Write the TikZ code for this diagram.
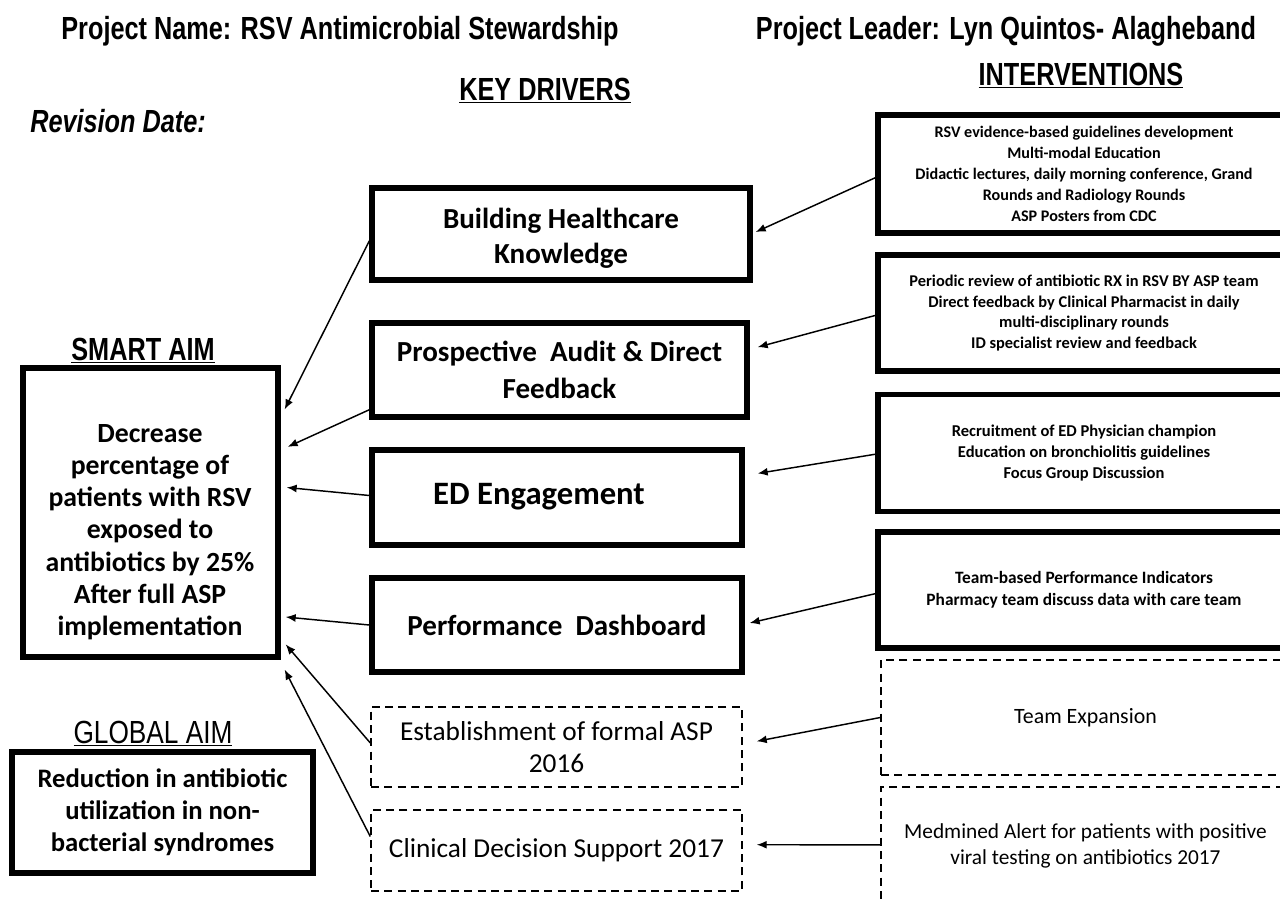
\documentclass[tikz,border=0pt]{standalone}
\usepackage{fontspec}
\setmainfont{Carlito}
\newfontfamily\hd[FakeStretch=0.79]{Liberation Sans}
\newfontfamily\hdr[FakeStretch=0.82]{Liberation Sans}
\usetikzlibrary{arrows.meta,calc}
\begin{document}
\begin{tikzpicture}[x=0.75pt,y=-0.75pt,
  thickbox/.style={draw,line width=4pt,inner sep=0pt,align=center},
  dashbox/.style={draw,line width=1.1pt,dash pattern=on 6pt off 4pt,inner sep=0pt,align=center},
  conn/.style={line width=1.1pt,-{Latex[length=7.5pt,width=6pt]}},
  head/.style={font=\hd\bfseries\fontsize{24pt}{27pt}\selectfont,anchor=base,inner sep=0pt},
  drv/.style={font=\bfseries\fontsize{21.8pt}{26pt}\selectfont},
  drvl/.style={font=\fontsize{20.5pt}{24.5pt}\selectfont},
  itv/.style={font=\bfseries\fontsize{12.1pt}{15.7pt}\selectfont},
  aimtxt/.style={font=\bfseries\fontsize{20.8pt}{24.2pt}\selectfont,align=center,inner sep=0pt}
]
\useasboundingbox (0,0) rectangle (1280,899);
\fill[white] (0,0) rectangle (1280,899);
\clip (0,0) rectangle (1280,899);

% headings
\node[head] (pname) at (340,40) {Project Name: RSV Antimicrobial Stewardship};
\node[head] (plead) at (1006,40) {Project Leader: Lyn Quintos- Alagheband};
\node[head] (kd) at (545,100) {\underline{KEY DRIVERS}};
\node[head] (iv) at (1081,85) {\underline{INTERVENTIONS}};
\node[head,anchor=base west,font=\hd\bfseries\itshape\fontsize{24pt}{27pt}\selectfont] (rev) at (30,132) {Revision Date:};
\node[head] (sa) at (143,360) {\underline{SMART AIM}};
\node[head,font=\hdr\fontsize{24pt}{27pt}\selectfont] (ga) at (153,743) {\underline{GLOBAL AIM}};

% smart aim and global aim
\node[thickbox,minimum width=191.25pt,minimum height=216.75pt] (s) at (150.5,512.5) {};
\node[aimtxt] (stxt) at (150,532) {Decrease\\percentage of\\patients with RSV\\exposed to\\antibiotics by 25\%\\After full ASP\\implementation};
\node[thickbox,minimum width=225.75pt,minimum height=90.75pt,font=\bfseries\fontsize{20pt}{24pt}\selectfont] (g) at (162.5,812.5) {Reduction in antibiotic\\utilization in non-\\bacterial syndromes};

% key drivers
\node[thickbox,minimum width=283.5pt,minimum height=69pt] (d1) at (561,234) {};
\node[drv,align=center] (d1t) at (561,238) {Building Healthcare\\Knowledge};
\node[thickbox,drv,font=\bfseries\fontsize{21.8pt}{27.5pt}\selectfont,minimum width=281.25pt,minimum height=70.5pt] (d2) at (559.5,370) {Prospective\ \ Audit \& Direct\\Feedback};
\node[thickbox,minimum width=277.5pt,minimum height=71.25pt] (d3) at (557,497.5) {};
\node[drv,font=\bfseries\fontsize{24.5pt}{26pt}\selectfont] (d3t) at (539,497) {ED\ Engagement};
\node[thickbox,drv,minimum width=277.5pt,minimum height=70.5pt] (d4) at (557,625) {Performance\ \ Dashboard};
\node[dashbox,drvl,minimum width=278.25pt,minimum height=60pt] (d5) at (556.5,747) {Establishment of formal ASP\\2016};
\node[dashbox,drvl,minimum width=278.25pt,minimum height=60.75pt] (d6) at (556.5,850.5) {Clinical Decision Support 2017};

% interventions
\node[thickbox,itv,minimum width=309pt,minimum height=88.5pt] (i1) at (1084,174) {RSV evidence-based guidelines development\\Multi-modal Education\\Didactic lectures, daily morning conference,\ Grand\\Rounds and Radiology Rounds\\ASP Posters from CDC};
\node[thickbox,itv,font=\bfseries\fontsize{12.3pt}{15.7pt}\selectfont,minimum width=309pt,minimum height=87pt] (i2) at (1084,313) {Periodic review of antibiotic RX in RSV BY ASP team\\Direct feedback by Clinical Pharmacist in daily\\multi-disciplinary rounds\\ID specialist review and feedback};
\node[thickbox,itv,font=\bfseries\fontsize{12.4pt}{15.7pt}\selectfont,minimum width=309pt,minimum height=87.75pt] (i3) at (1084,453) {Recruitment of ED Physician champion\\Education\ on bronchiolitis\ guidelines\\Focus Group\ Discussion};
\node[thickbox,itv,font=\bfseries\fontsize{13pt}{16.5pt}\selectfont,minimum width=309pt,minimum height=87pt] (i4) at (1084,590) {Team-based Performance\ Indicators\\Pharmacy team discuss data with care team};
\node[dashbox,font=\fontsize{16.4pt}{19pt}\selectfont,minimum width=306.75pt,minimum height=86.25pt] (i5) at (1085.5,717.5) {Team Expansion};
\node[dashbox,font=\fontsize{16pt}{19pt}\selectfont,minimum width=306.75pt,minimum height=88.5pt] (i6) at (1085.5,846) {Medmined Alert for patients with positive\\viral testing on antibiotics 2017};

% interventions -> drivers
\draw[conn] ($(i1.north west)!0.53!(i1.south west)$) -- ($(d1.north east)!0.48!(d1.south east)+(3,0)$);
\draw[conn] ($(i2.north west)!0.52!(i2.south west)$) -- ($(d2.north east)!0.27!(d2.south east)+(8,0)$);
\draw[conn] ($(i3.north west)!0.51!(i3.south west)$) -- ($(d3.north east)!0.26!(d3.south east)+(13,0)$);
\draw[conn] ($(i4.north west)!0.53!(i4.south west)$) -- ($(d4.north east)!0.48!(d4.south east)+(5,0)$);
\draw[conn] ($(i5.north west)!0.50!(i5.south west)$) -- ($(d5.north east)!0.43!(d5.south east)+(14,0)$);
\draw[conn] ($(i6.north west)!0.49!(i6.south west)$) -- ($(d6.north east)!0.43!(d6.south east)+(14,0)$);

% drivers -> smart aim
\draw[conn] ($(d1.north west)!0.57!(d1.south west)$) -- ($(s.north east)!0.15!(s.south east)+(4,0)$);
\draw[conn] ($(d2.north west)!0.90!(d2.south west)$) -- ($(s.north east)!0.277!(s.south east)+(7,0)$);
\draw[conn] ($(d3.north west)!0.48!(d3.south west)$) -- ($(s.north east)!0.415!(s.south east)+(6,0)$);
\draw[conn] ($(d4.north west)!0.50!(d4.south west)$) -- ($(s.north east)!0.855!(s.south east)+(5,0)$);
\draw[conn] ($(d5.north west)!0.45!(d5.south west)$) -- ($(s.north east)!0.948!(s.south east)+(5,0)$);
\draw[conn] ($(d6.north west)!0.33!(d6.south west)$) -- ($(s.south east)+(4,10)$);
\end{tikzpicture}
\end{document}
